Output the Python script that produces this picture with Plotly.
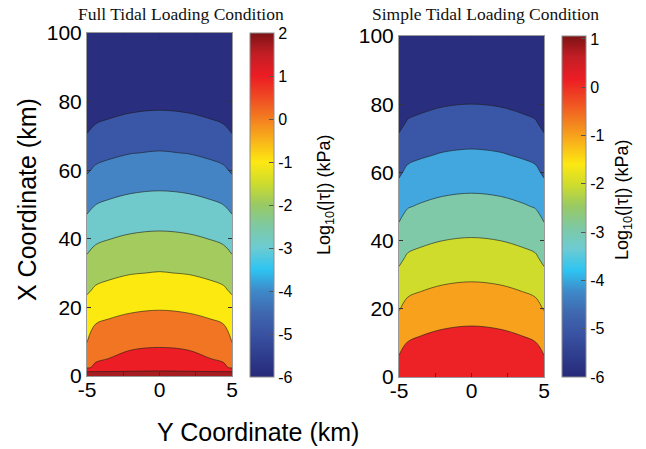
import plotly.graph_objects as go

# ------------------------------------------------------------------ data
# Y coordinate (km) of the grid columns (horizontal axis)
Y_COLS = [-5, -4.4, -3.5, -2, 0, 2, 3.5, 4.4, 5]

# Full tidal loading: X coordinate (km) rows and log10(|tau|) (kPa) values
FULL_X_ROWS = [0, 1.2, 2.5, 5, 10, 15, 20, 25, 30, 35, 40, 45, 50,
               55, 60, 65, 70, 75, 80, 85, 90, 95, 100]
FULL_Z = [
    [2.30, 2.30, 2.30, 2.30, 2.30, 2.30, 2.30, 2.30, 2.30],
    [2.05, 2.05, 2.05, 2.05, 2.05, 2.05, 2.05, 2.05, 2.05],
    [0.850, 1.175, 1.408, 1.678, 1.810, 1.678, 1.408, 1.175, 0.850],
    [0.450, 0.879, 1.011, 1.281, 1.413, 1.281, 1.011, 0.879, 0.450],
    [-0.020, 0.448, 0.575, 0.722, 0.793, 0.722, 0.575, 0.448, -0.020],
    [-0.232, 0.017, 0.144, 0.291, 0.362, 0.291, 0.144, 0.017, -0.232],
    [-0.679, -0.429, -0.297, -0.146, -0.071, -0.146, -0.297, -0.429, -0.679],
    [-1.118, -0.875, -0.744, -0.592, -0.518, -0.592, -0.744, -0.875, -1.118],
    [-1.538, -1.302, -1.179, -1.036, -0.964, -1.036, -1.179, -1.302, -1.538],
    [-1.958, -1.722, -1.599, -1.456, -1.386, -1.456, -1.599, -1.722, -1.958],
    [-2.385, -2.145, -2.020, -1.876, -1.806, -1.876, -2.020, -2.145, -2.385],
    [-2.812, -2.573, -2.447, -2.302, -2.231, -2.302, -2.447, -2.573, -2.812],
    [-3.241, -3.005, -2.875, -2.729, -2.658, -2.729, -2.875, -3.005, -3.241],
    [-3.672, -3.431, -3.304, -3.158, -3.086, -3.158, -3.304, -3.431, -3.672],
    [-4.101, -3.862, -3.735, -3.589, -3.517, -3.589, -3.735, -3.862, -4.101],
    [-4.521, -4.286, -4.162, -4.019, -3.948, -4.019, -4.162, -4.286, -4.521],
    [-4.941, -4.706, -4.582, -4.439, -4.370, -4.439, -4.582, -4.706, -4.941],
    [-5.364, -5.127, -5.003, -4.859, -4.790, -4.859, -5.003, -5.127, -5.364],
    [-5.788, -5.551, -5.426, -5.282, -5.212, -5.282, -5.426, -5.551, -5.788],
    [-6.211, -5.974, -5.850, -5.706, -5.635, -5.706, -5.850, -5.974, -6.211],
    [-6.634, -6.397, -6.273, -6.129, -6.059, -6.129, -6.273, -6.397, -6.634],
    [-7.058, -6.821, -6.697, -6.553, -6.482, -6.553, -6.697, -6.821, -7.058],
    [-7.481, -7.244, -7.120, -6.976, -6.906, -6.976, -7.120, -7.244, -7.481],
]

# Simple tidal loading
SIMPLE_X_ROWS = [0, 5, 10, 15, 20, 25, 30, 35, 40, 45, 50,
                 55, 60, 65, 70, 75, 80, 85, 90, 95, 100]
SIMPLE_Z = [
    [0.455, 0.735, 0.851, 0.985, 1.050, 0.985, 0.851, 0.735, 0.455],
    [0.105, 0.385, 0.501, 0.635, 0.700, 0.635, 0.501, 0.385, 0.105],
    [-0.271, 0.035, 0.151, 0.285, 0.350, 0.285, 0.151, 0.035, -0.271],
    [-0.659, -0.349, -0.221, -0.072, -0.003, -0.072, -0.221, -0.349, -0.659],
    [-1.046, -0.736, -0.608, -0.460, -0.388, -0.460, -0.608, -0.736, -1.046],
    [-1.431, -1.123, -0.996, -0.847, -0.775, -0.847, -0.996, -1.123, -1.431],
    [-1.815, -1.508, -1.381, -1.233, -1.161, -1.233, -1.381, -1.508, -1.815],
    [-2.200, -1.892, -1.765, -1.618, -1.546, -1.618, -1.765, -1.892, -2.200],
    [-2.584, -2.277, -2.150, -2.002, -1.931, -2.002, -2.150, -2.277, -2.584],
    [-2.969, -2.661, -2.534, -2.387, -2.315, -2.387, -2.534, -2.661, -2.969],
    [-3.357, -3.047, -2.919, -2.771, -2.700, -2.771, -2.919, -3.047, -3.357],
    [-3.744, -3.434, -3.306, -3.157, -3.085, -3.157, -3.306, -3.434, -3.744],
    [-4.128, -3.822, -3.694, -3.545, -3.473, -3.545, -3.694, -3.822, -4.128],
    [-4.504, -4.203, -4.079, -3.932, -3.860, -3.932, -4.079, -4.203, -4.504],
    [-4.880, -4.579, -4.455, -4.311, -4.241, -4.311, -4.455, -4.579, -4.880],
    [-5.256, -4.955, -4.831, -4.687, -4.617, -4.687, -4.831, -4.955, -5.256],
    [-5.632, -5.331, -5.207, -5.062, -4.993, -5.062, -5.207, -5.331, -5.632],
    [-6.008, -5.707, -5.583, -5.438, -5.368, -5.438, -5.583, -5.707, -6.008],
    [-6.384, -6.083, -5.959, -5.814, -5.744, -5.814, -5.959, -6.083, -6.384],
    [-6.760, -6.459, -6.335, -6.190, -6.120, -6.190, -6.335, -6.459, -6.760],
    [-7.136, -6.835, -6.711, -6.566, -6.496, -6.566, -6.711, -6.835, -7.136],
]

FULL_LEVELS = (-5, 2, 1)      # start, end, step of the contour levels
SIMPLE_LEVELS = (-5, 0, 1)
FULL_CBAR_RANGE = (-6, 2)
SIMPLE_CBAR_RANGE = (-6, 1.06)
FULL_CBAR_TICKS = [-6, -5, -4, -3, -2, -1, 0, 1, 2]
SIMPLE_CBAR_TICKS = [-6, -5, -4, -3, -2, -1, 0, 1]
XCOORD_TICKS = [0, 20, 40, 60, 80, 100]
YCOORD_TICKS = [-5, 0, 5]
YCOORD_MINOR = [-2.5, 2.5]

TITLE_FULL = "Full Tidal Loading Condition"
TITLE_SIMPLE = "Simple Tidal Loading Condition"
XLABEL = "Y Coordinate (km)"
YLABEL = "X Coordinate (km)"
CBAR_LABEL = "Log<sub>10</sub>(|τ|) (kPa)"

# ------------------------------------------------------------------ style
W, H = 646, 449
SANS = "Liberation Sans, Arial, sans-serif"
SERIF = "Liberation Serif, Times New Roman, serif"

FULL_BAND_COLORS = ["#2a2e7e", "#3a56a6", "#4584c4", "#70c9cb", "#a3cb5d",
                    "#fbe910", "#f17522", "#ec1d24", "#a61c20"]
SIMPLE_BAND_COLORS = ["#2a2e7e", "#3a56a6", "#43a7df", "#7fc9a8", "#cfdc2b",
                      "#f8a11d", "#ec2227"]

JET = [
    [0.0, "#272a78"], [0.0625, "#2f3d8e"], [0.125, "#3952a2"],
    [0.1875, "#3f68b0"], [0.25, "#3e89c8"], [0.3125, "#2ec4f2"],
    [0.375, "#6ccbd2"], [0.4375, "#7ec9a4"], [0.5, "#98c964"],
    [0.5625, "#cddc2d"], [0.625, "#fde812"], [0.6875, "#f9b31a"],
    [0.75, "#f37f20"], [0.8125, "#ef4a23"], [0.875, "#ec1c24"],
    [0.9375, "#c41e25"], [1.0, "#7d1315"],
]


def step_scale(colors):
    n = len(colors) - 1
    sc = []
    for k, c in enumerate(colors):
        sc.append([max(0.0, (k - 0.5) / n), c])
        sc.append([min(1.0, (k + 0.5) / n), c])
    return sc


def px_x(p):
    return p / W


def px_y(p):
    return 1 - p / H


panels = [
    dict(xa="x", ya="y", rows=FULL_X_ROWS, z=FULL_Z, levels=FULL_LEVELS,
         bands=FULL_BAND_COLORS, crange=FULL_CBAR_RANGE, cticks=FULL_CBAR_TICKS,
         xdom=(87, 232), ydom=(33, 376), cbx=250, cby=(33, 377)),
    dict(xa="x2", ya="y2", rows=SIMPLE_X_ROWS, z=SIMPLE_Z, levels=SIMPLE_LEVELS,
         bands=SIMPLE_BAND_COLORS, crange=SIMPLE_CBAR_RANGE, cticks=SIMPLE_CBAR_TICKS,
         xdom=(399, 544), ydom=(36, 377), cbx=562, cby=(36, 377)),
]

fig = go.Figure()
layout_axes = {}
for i, p in enumerate(panels):
    s, e, st = p["levels"]
    fig.add_trace(go.Contour(
        x=Y_COLS, y=p["rows"], z=p["z"],
        autocontour=False,
        contours=dict(start=s, end=e, size=st, coloring="fill"),
        colorscale=step_scale(p["bands"]), showscale=False,
        line=dict(color="rgba(25,25,25,0.85)", width=0.7, smoothing=1),
        hoverinfo="skip", xaxis=p["xa"], yaxis=p["ya"],
    ))
    cb_len = (p["cby"][1] - p["cby"][0]) / H
    cb_mid = px_y((p["cby"][0] + p["cby"][1]) / 2)
    fig.add_trace(go.Scatter(
        x=[Y_COLS[4]], y=[p["rows"][-1]], mode="markers",
        marker=dict(size=1, opacity=0, color=[p["crange"][0]],
                    cmin=p["crange"][0], cmax=p["crange"][1],
                    colorscale=JET, showscale=True,
                    colorbar=dict(
                        x=px_x(p["cbx"]), xanchor="left", xpad=0,
                        y=cb_mid, yanchor="middle", ypad=0,
                        len=cb_len, lenmode="fraction",
                        thickness=24, thicknessmode="pixels",
                        outlinewidth=1, outlinecolor="#8c8c8c",
                        tickvals=p["cticks"], ticktext=[str(v) for v in p["cticks"]],
                        ticks="inside", ticklen=5, tickcolor="#555",
                        tickfont=dict(family=SANS, size=16, color="black"),
                    )),
        hoverinfo="skip", showlegend=False, xaxis=p["xa"], yaxis=p["ya"],
    ))
    common = dict(showline=True, linecolor="#9a9a9a", linewidth=1, mirror="ticks",
                  ticks="inside", ticklen=4, tickcolor="#333", showgrid=False,
                  zeroline=False, automargin=False,
                  tickfont=dict(family=SANS, size=21, color="black"))
    xkey = "xaxis" if i == 0 else "xaxis2"
    ykey = "yaxis" if i == 0 else "yaxis2"
    layout_axes[xkey] = dict(
        domain=[px_x(p["xdom"][0]), px_x(p["xdom"][1])], range=[-5, 5],
        anchor=p["ya"], tickvals=YCOORD_TICKS, ticktext=[str(v) for v in YCOORD_TICKS],
        minor=dict(tickvals=YCOORD_MINOR, ticks="inside", ticklen=4, tickcolor="#333"),
        ticklabelstandoff=-5,
        **common)
    layout_axes[ykey] = dict(
        domain=[px_y(p["ydom"][1]), px_y(p["ydom"][0])], range=[0, 100],
        anchor=p["xa"], tickvals=XCOORD_TICKS, ticktext=[str(v) for v in XCOORD_TICKS],
        **common)

ann = [
    dict(text=TITLE_FULL, x=px_x(181), y=px_y(14), font=dict(family=SERIF, size=17.5, color="#111")),
    dict(text=TITLE_SIMPLE, x=px_x(485.5), y=px_y(14), font=dict(family=SERIF, size=17.5, color="#111")),
    dict(text=YLABEL, x=px_x(27), y=px_y(200), textangle=-90, font=dict(family=SANS, size=25, color="black")),
    dict(text=XLABEL, x=px_x(257.5), y=px_y(432), font=dict(family=SANS, size=25, color="black")),
    dict(text=CBAR_LABEL, x=px_x(325), y=px_y(195), textangle=-90, font=dict(family=SANS, size=18, color="black")),
    dict(text=CBAR_LABEL, x=px_x(623), y=px_y(200), textangle=-90, font=dict(family=SANS, size=18, color="black")),
]
for a in ann:
    a.update(xref="paper", yref="paper", xanchor="center", yanchor="middle", showarrow=False)

fig.update_layout(
    width=W, height=H, margin=dict(l=0, r=0, t=0, b=0, autoexpand=False),
    paper_bgcolor="white", plot_bgcolor="white",
    showlegend=False, annotations=ann, **layout_axes,
)

fig.write_html(
    "out.html",
    config={"displayModeBar": False},
    post_script="document.body.style.margin='0';document.body.style.overflow='hidden';",
)
